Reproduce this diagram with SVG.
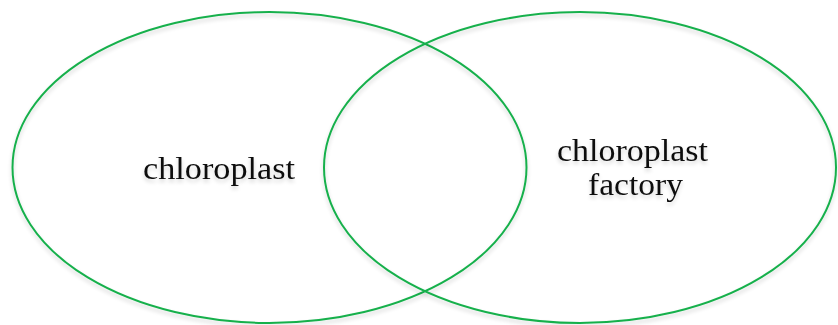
<svg xmlns="http://www.w3.org/2000/svg" width="838" height="325" viewBox="0 0 838 325">
<defs>
<filter id="sh" x="-10%" y="-10%" width="120%" height="130%">
<feGaussianBlur in="SourceAlpha" stdDeviation="2"/>
<feOffset dx="0" dy="3" result="b"/>
<feComponentTransfer><feFuncA type="linear" slope="0.18"/></feComponentTransfer>
<feMerge><feMergeNode/><feMergeNode in="SourceGraphic"/></feMerge>
</filter>
</defs>
<style>
.c{fill:none;stroke:#17b04c;stroke-width:2}
.t{font-family:"Liberation Serif","DejaVu Serif",serif;font-size:31px;fill:#111;text-anchor:middle}
</style>
<rect width="838" height="325" fill="#fff"/>
<g id="left">
<ellipse class="c" cx="269.5" cy="167.5" rx="257" ry="155.5" filter="url(#sh)"/>
<text class="t" x="219" y="179" textLength="152" lengthAdjust="spacingAndGlyphs" filter="url(#sh)">chloroplast</text>
</g>
<g id="right">
<ellipse class="c" cx="580" cy="167.5" rx="256" ry="155.5" filter="url(#sh)"/>
<text class="t" x="632.5" y="161" textLength="151" lengthAdjust="spacingAndGlyphs" filter="url(#sh)">chloroplast</text>
<text class="t" x="635.5" y="195" textLength="95" lengthAdjust="spacingAndGlyphs" filter="url(#sh)">factory</text>
</g>
<g id="connectors"/>
</svg>
